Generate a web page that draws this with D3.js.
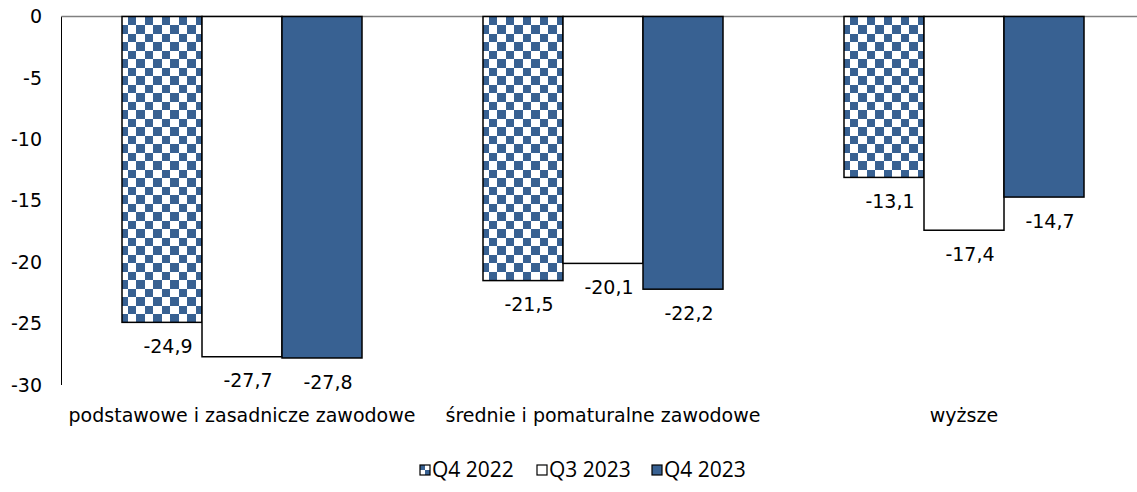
<!DOCTYPE html>
<html><head><meta charset="utf-8">
<script src="https://cdn.jsdelivr.net/npm/d3@7"></script>
<style>body{margin:0;background:#fff}svg{display:block}</style>
</head><body>
<svg id="c" width="1137" height="492"></svg>
<script>
const categories = ["podstawowe i zasadnicze zawodowe", "średnie i pomaturalne zawodowe", "wyższe"];
const seriesNames = ["Q4 2022", "Q3 2023", "Q4 2023"];
const q4_2022 = [-24.9, -21.5, -13.1];
const q3_2023 = [-27.7, -20.1, -17.4];
const q4_2023 = [-27.8, -22.2, -14.7];
const yTicks = [0, -5, -10, -15, -20, -25, -30];

const seriesValues = [q4_2022, q3_2023, q4_2023];
const svg = d3.select("#c");
const blue = "#386192";
const axisFont = "DejaVu Sans";
const fs = 19;

const defs = svg.append("defs");
const pat = defs.append("pattern").attr("id","chk").attr("patternUnits","userSpaceOnUse")
  .attr("width",17).attr("height",17).attr("x",125).attr("y",17);
pat.append("rect").attr("width",17).attr("height",17).attr("fill","#fff");
pat.append("rect").attr("x",0).attr("y",0).attr("width",8).attr("height",8).attr("fill",blue);
pat.append("rect").attr("x",8).attr("y",8).attr("width",9).attr("height",9).attr("fill",blue);
const fills = ["url(#chk)", "#ffffff", blue];

const x0 = d3.scaleBand().domain(categories).range([61.5, 1144.5]).paddingInner(0).paddingOuter(0);
const barW = 80;
const y = d3.scaleLinear().domain([0, -30]).range([16.5, 385]);

// axes
svg.append("line").attr("x1",61.5).attr("x2",61.5).attr("y1",y(0)).attr("y2",y(-30)).attr("stroke","#000").attr("stroke-width",1);
svg.append("line").attr("x1",61.5).attr("x2",1137).attr("y1",y(0)).attr("y2",y(0)).attr("stroke","#808080").attr("stroke-width",1.5);
svg.selectAll("text.yt").data(yTicks).enter().append("text").attr("class","yt")
  .attr("x",42).attr("y",d=>y(d)).attr("dy","0.35em").attr("text-anchor","end")
  .attr("font-family",axisFont).attr("font-size",fs).attr("fill","#000").text(d=>d);

// bars
const groups = svg.selectAll("g.grp").data(categories).enter().append("g").attr("class","grp")
  .attr("transform",d=>`translate(${x0(d)+x0.bandwidth()/2 - 1.5*barW},0)`);
seriesNames.forEach((s,si)=>{
  groups.append("rect")
    .attr("x", si*barW)
    .attr("y", y(0))
    .attr("width", barW)
    .attr("height", (d,i)=> y(seriesValues[si][i]) - y(0))
    .attr("fill", fills[si]).attr("stroke","#000").attr("stroke-width",1.5);
  groups.append("text")
    .attr("x", si*barW + barW/2 + 6)
    .attr("y", (d,i)=> y(seriesValues[si][i]) + 24)
    .attr("dy","0.35em").attr("text-anchor","middle")
    .attr("font-family",axisFont).attr("font-size",fs).attr("fill","#000")
    .text((d,i)=> d3.format(".1f")(seriesValues[si][i]).replace(".",",").replace("−","-"));
});

// category labels
svg.selectAll("text.cat").data(categories).enter().append("text").attr("class","cat")
  .attr("x",d=>x0(d)+x0.bandwidth()/2).attr("y",415).attr("dy","0.35em").attr("text-anchor","middle")
  .attr("font-family",axisFont).attr("font-size",fs).attr("fill","#000").text(d=>d);

// legend
const patL = defs.append("pattern").attr("id","chkL").attr("patternUnits","objectBoundingBox").attr("width",1).attr("height",1);
patL.append("rect").attr("width",10).attr("height",10).attr("fill","#fff");
patL.append("rect").attr("width",5).attr("height",5).attr("fill",blue);
patL.append("rect").attr("x",5).attr("y",5).attr("width",5).attr("height",5).attr("fill",blue);
const legX = [420, 537, 652];
const leg = svg.selectAll("g.leg").data(seriesNames).enter().append("g").attr("class","leg")
  .attr("transform",(d,i)=>`translate(${legX[i]},470)`);
leg.append("rect").attr("x",0).attr("y",-5).attr("width",10).attr("height",10)
  .attr("fill",(d,i)=>i===0?"url(#chkL)":fills[i]).attr("stroke","#000").attr("stroke-width",1.2);
leg.append("text").attr("x",12).attr("y",0).attr("dy","0.35em")
  .attr("font-family","Open Sans").attr("font-size",21).attr("fill","#000").text(d=>d);
</script>
</body></html>
